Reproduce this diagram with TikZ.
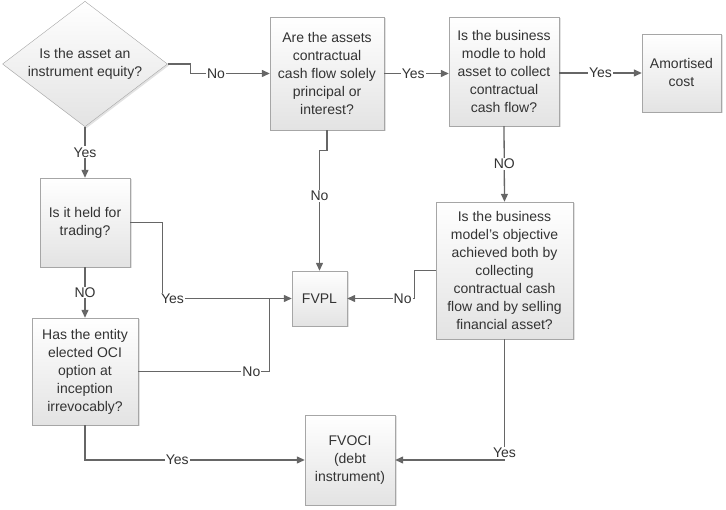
\documentclass[tikz,border=0pt]{standalone}
\usepackage{fontspec}
\setmainfont{Liberation Sans}
\usepackage{tikz}
\usetikzlibrary{arrows.meta,positioning,shapes,shadows,calc}

\tikzset{
  box/.style={draw=gray!70, top color=white, bottom color=gray!22, align=center,
    inner sep=2pt, text=black!80, font=\fontsize{14}{18}\selectfont,
    drop shadow={shadow xshift=1.5pt, shadow yshift=-1.5pt, fill=gray!45}},
  link/.style={draw=black!60, line width=1.3pt},
  arr/.style={link, -{Triangle[length=8pt,width=7pt]}},
  lbl/.style={fill=white, inner sep=1pt, text=black!80, font=\fontsize{14}{16}\selectfont}
}

\begin{document}
\begin{tikzpicture}[x=1pt,y=-1pt]
  \useasboundingbox (0,0) rectangle (726,510);
  % Define the decision boxes
  \path (85,64) node[box,diamond,inner sep=-5pt,minimum width=165pt,minimum height=124pt] (equity) {Is the asset an\\instrument equity?};
  \path (327,73.5) node[box,minimum width=114pt,minimum height=113pt] (sppi) {Are the assets\\contractual\\cash flow solely\\principal or\\interest?};
  \path (504,71.5) node[box,minimum width=110pt,minimum height=109pt] (hold) {Is the business\\modle to hold\\asset to collect\\contractual\\cash flow?};
  \path (681.5,73) node[box,minimum width=79pt,minimum height=78pt] (amort) {Amortised\\cost};
  \path (85,222.5) node[box,minimum width=90pt,minimum height=89pt] (trading) {Is it held for\\trading?};
  \path (85,371.5) node[box,minimum width=106pt,minimum height=107pt] (oci) {Has the entity\\elected OCI\\option at\\inception\\irrevocably?};
  \path (504.5,270.5) node[box,minimum width=137pt,minimum height=137pt] (both) {Is the business\\model's objective\\achieved both by\\collecting\\contractual cash\\flow and by selling\\financial asset?};
  % Define the outcomes
  \path (319.5,298.5) node[box,minimum width=55pt,minimum height=55pt] (fvpl) {FVPL};
  \path (350,460) node[box,minimum width=90pt,minimum height=90pt] (fvoci) {FVOCI\\(debt\\instrument)};
  \coordinate (join) at ([xshift=-22pt]fvpl.west);
  % Draw the connectors
  \draw[arr] (equity.east) -- ++(23,0) |- node[lbl,pos=0.66] {No} (sppi.west);
  \draw[arr] (equity.south) -- node[lbl] {Yes} (trading.north);
  \draw[arr] (sppi.south) -- ++(0,20) -| node[lbl,pos=0.69] {No} (fvpl.north);
  \draw[arr] (sppi.east) -- node[lbl,pos=0.45] {Yes} (sppi.east -| hold.west);
  \draw[arr] (hold.east |- amort.west) -- node[lbl] {Yes} (amort.west);
  \draw[arr] (hold.south) -- node[lbl] {NO} (both.north);
  \draw[arr] (both.west) -- ++(-21,0) |- node[lbl,pos=0.59] {No} (fvpl.east);
  \draw[arr] (trading.east) -- ++(32,0) |- node[lbl,pos=0.54] {Yes} (fvpl.west);
  \draw[arr] (trading.south) -- node[lbl] {NO} (oci.north);
  \draw[link] (oci.east) -| node[lbl,pos=0.43] {No} (join);
  \draw[arr] (oci.south) |- node[lbl,pos=0.71] {Yes} (fvoci.west);
  \draw[arr] (both.south) |- node[lbl,pos=0.47] {Yes} (fvoci.east);
\end{tikzpicture}
\end{document}
